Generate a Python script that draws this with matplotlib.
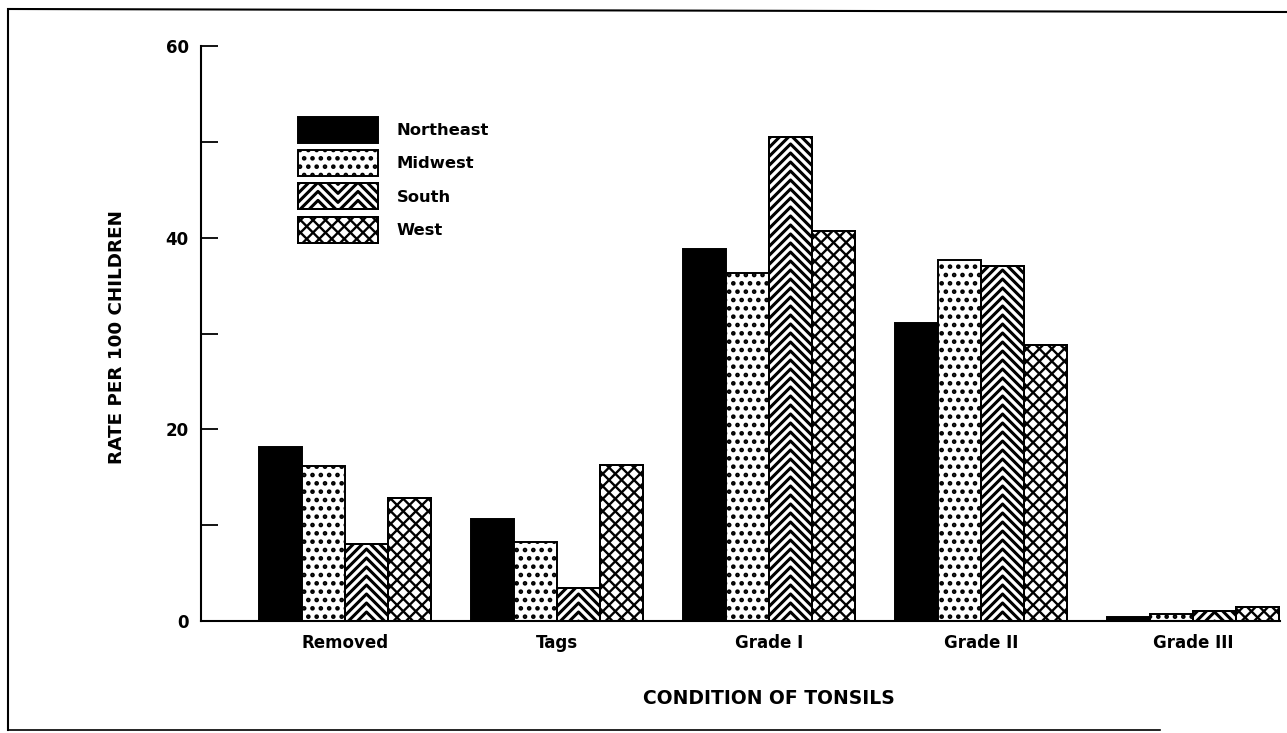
import numpy as np
import matplotlib
matplotlib.use("Agg")
import matplotlib.pyplot as plt
from matplotlib.patches import Rectangle
from matplotlib.collections import LineCollection
from matplotlib.legend_handler import HandlerBase
from matplotlib.lines import Line2D

# ---------------- data ----------------
categories = ["Removed", "Tags", "Grade I", "Grade II", "Grade III"]
regions = ["Northeast", "Midwest", "South", "West"]
northeast = [18.2, 10.6, 38.8, 31.1, 0.4]
midwest = [16.2, 8.2, 36.3, 37.7, 0.7]
south = [8.0, 3.4, 50.5, 37.0, 1.0]
west = [12.8, 16.3, 40.7, 28.8, 1.5]
y_ticks = [0, 10, 20, 30, 40, 50, 60]
y_ticklabels = ["0", "", "20", "", "40", "", "60"]
x_label = "CONDITION OF TONSILS"
y_label = "RATE PER 100 CHILDREN"

plt.rcParams["font.family"] = ["DejaVu Sans"]
plt.rcParams["font.weight"] = "bold"
plt.rcParams["hatch.linewidth"] = 2.1
plt.rcParams["hatch.color"] = "black"

W, H, DPI = 1287, 733, 100
fig = plt.figure(figsize=(W / DPI, H / DPI), dpi=DPI)
ax_left, ax_right, ax_top, ax_bot = 201, 1280, 46, 621
ax = fig.add_axes([ax_left / W, 1 - ax_bot / H, (ax_right - ax_left) / W, (ax_bot - ax_top) / H])
xlim = (-0.679, 4.41)
ylim = (0, 60)
ax.set_xlim(*xlim)
ax.set_ylim(*ylim)
sx = (xlim[1] - xlim[0]) / (ax_right - ax_left)  # data units per pixel (x)
sy = (ylim[1] - ylim[0]) / (ax_bot - ax_top)      # data units per pixel (y)


def chevron_segments(x0, y0, w, h, ux, uy, period_px=9.0, zig_px=None):
    """Stacked '^' stripes; ux, uy = units per pixel."""
    wp, hp = w / ux, h / uy
    if zig_px is None:
        us = np.array([0.0, wp / 2, wp])
        prof = -np.abs(us - wp / 2)
    else:
        n = int(np.ceil(wp / (zig_px / 2))) + 1
        us = np.arange(n + 1) * zig_px / 2
        prof = -np.abs((us % zig_px) - zig_px / 2)
    amp = -prof.min()
    segs = []
    c = 0.0
    while c <= hp + amp + period_px:
        ys = c + prof
        segs.append(np.column_stack([x0 + us * ux, y0 + ys * uy]))
        c += period_px
    return segs


def cross_segments(x0, y0, w, h, ux, uy, spacing_px=12.5):
    wp, hp = w / ux, h / uy
    segs = []
    c = -wp - spacing_px
    while c <= hp + wp + spacing_px:
        segs.append([(x0, y0 + c * uy), (x0 + wp * ux, y0 + (c + wp) * uy)])
        segs.append([(x0, y0 + (c + wp) * uy), (x0 + wp * ux, y0 + c * uy)])
        c += spacing_px
    return segs


styles = {
    "Northeast": dict(facecolor="black", hatch=None),
    "Midwest": dict(facecolor="white", hatch=".."),
    "South": dict(facecolor="white", hatch=None),
    "West": dict(facecolor="white", hatch=None),
}
CHEV_LW = 2.2
CROSS_LW = 1.7
EDGE_LW = 1.4

x = np.arange(len(categories))
bw = 0.203
series = [northeast, midwest, south, west]
for i, (name, vals) in enumerate(zip(regions, series)):
    st = styles[name]
    bars = ax.bar(x + (i - 1.5) * bw, vals, bw, facecolor=st["facecolor"],
                  edgecolor="black", linewidth=EDGE_LW, hatch=st["hatch"], zorder=2)
    if name in ("South", "West"):
        for b in bars:
            bx, by, bwid, bh = b.get_x(), b.get_y(), b.get_width(), b.get_height()
            if name == "South":
                segs = chevron_segments(bx, by, bwid, bh, sx, sy)
                lw = CHEV_LW
            else:
                segs = cross_segments(bx, by, bwid, bh, sx, sy)
                lw = CROSS_LW
            lc = LineCollection(segs, colors="black", linewidths=lw, zorder=3,
                                capstyle="butt")
            ax.add_collection(lc, autolim=False)
            lc.set_clip_path(b)
            # outline on top
            ax.add_patch(Rectangle((bx, by), bwid, bh, fill=False, edgecolor="black",
                                   linewidth=EDGE_LW, zorder=4))


class PatternHandler(HandlerBase):
    def __init__(self, kind):
        super().__init__()
        self.kind = kind

    def create_artists(self, legend, orig_handle, xdescent, ydescent, width,
                       height, fontsize, trans):
        st = styles[self.kind]
        x0, y0 = -xdescent, -ydescent
        rect = Rectangle((x0, y0), width, height, facecolor=st["facecolor"],
                         edgecolor="black", linewidth=EDGE_LW, hatch=st["hatch"],
                         transform=trans)
        arts = [rect]
        u = 72.0 / DPI  # points per pixel
        if self.kind in ("South", "West"):
            if self.kind == "South":
                segs = chevron_segments(x0, y0, width, height, u, u, period_px=9.0, zig_px=40.0)
                lw = CHEV_LW
            else:
                segs = cross_segments(x0, y0, width, height, u, u)
                lw = CROSS_LW
            lc = LineCollection(segs, colors="black", linewidths=lw, transform=trans)
            lc.set_clip_path(rect)
            arts.append(lc)
            arts.append(Rectangle((x0, y0), width, height, fill=False, edgecolor="black",
                                  linewidth=EDGE_LW, transform=trans))
        return arts


leg_fs = 11.8
proxies = [Rectangle((0, 0), 1, 1) for _ in regions]
hmap = {p: PatternHandler(r) for p, r in zip(proxies, regions)}
leg = ax.legend(proxies, regions, handler_map=hmap, loc="upper left",
                bbox_to_anchor=(298 / W, 1 - 117 / H), bbox_transform=fig.transFigure,
                frameon=False, fontsize=leg_fs, borderpad=0, borderaxespad=0,
                handlelength=57.6 / leg_fs, handleheight=2.063,
                labelspacing=0.44, handletextpad=1.15)

# axes styling
ax.spines["top"].set_visible(False)
ax.spines["right"].set_visible(False)
ax.spines["left"].set_linewidth(1.5)
ax.spines["bottom"].set_linewidth(1.5)
ax.set_yticks(y_ticks)
ax.set_yticklabels(y_ticklabels)
ax.set_xticks(x)
ax.set_xticklabels(categories)
ax.tick_params(axis="y", direction="in", length=12, width=1.3, pad=9, labelsize=12)
ax.tick_params(axis="x", length=0, pad=9, labelsize=12)

fig.text(769 / W, 1 - 698 / H, x_label, ha="center", va="center", fontsize=13.5,
         fontweight="bold")
fig.text(117 / W, 1 - 337 / H, y_label, ha="center", va="center", rotation=90,
         fontsize=13.2, fontweight="bold")

# page frame
fig.add_artist(Line2D([10 / W, 1.0], [1 - 9 / H, 1 - 12 / H], transform=fig.transFigure,
                      color="black", lw=1.5))
fig.add_artist(Line2D([8 / W, 8 / W], [1 - 9 / H, 1 - 730 / H], transform=fig.transFigure,
                      color="black", lw=1.5))
fig.add_artist(Line2D([8 / W, 1160 / W], [1 - 730 / H, 1 - 730 / H], transform=fig.transFigure,
                      color="black", lw=1.2))

fig.savefig("out.png", dpi=DPI)
